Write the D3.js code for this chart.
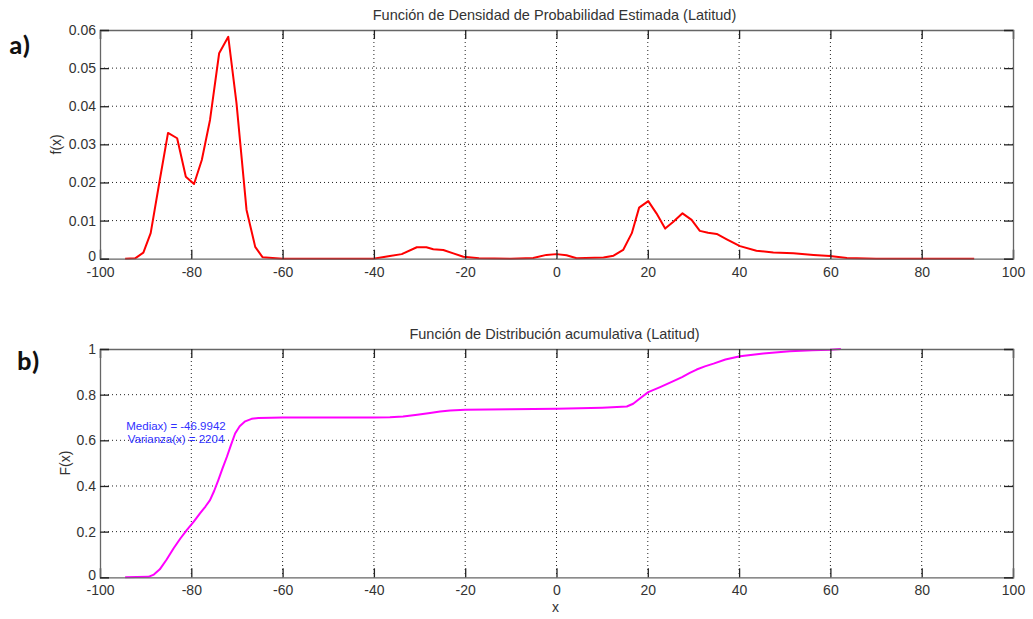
<!DOCTYPE html>
<html>
<head>
<meta charset="utf-8">
<script src="https://cdn.jsdelivr.net/npm/d3@7"></script>
<style>
  html, body { margin: 0; padding: 0; background: #fff; }
  svg { display: block; font-family: "Liberation Sans", Arial, sans-serif; }
</style>
</head>
<body>
<svg id="chart" width="1033" height="619"></svg>
<script>
// Kernel density estimate of latitude, f(x)
const pdfX = [-94.5, -92.3, -90.5, -88.9, -87.0, -85.1, -83.1, -81.2, -79.4, -77.7, -75.9, -73.9, -71.9, -70.1, -67.9, -66.0, -64.4,
  -60, -50, -40.1, -36.5, -33.9, -30.6, -28.5, -27.0, -24.8, -22.6, -20.4, -17.0, -10, -5.1, -2.2, 0.0, 2.2, 4.4, 10.3, 12.5,
  14.6, 16.5, 18.1, 20.1, 21.9, 23.8, 25.6, 27.6, 29.6, 31.4, 33.2, 35.1, 37.3, 40.2, 43.8, 47.5, 51.9, 56.3, 59.9, 63.6, 70, 80, 91.5];
const pdfY = [0, 0.0001, 0.0016, 0.0067, 0.020, 0.0330, 0.0316, 0.0215, 0.0196, 0.0259, 0.0364, 0.0539, 0.0582, 0.0408, 0.0128, 0.0031, 0.0004,
  0, 0, 0, 0.0007, 0.0012, 0.0030, 0.0030, 0.0025, 0.0023, 0.0014, 0.0005, 0.0001, 0, 0.0002, 0.0010, 0.0012, 0.0009, 0.0001, 0.0003, 0.0008,
  0.0023, 0.0067, 0.0134, 0.0151, 0.0119, 0.0079, 0.0097, 0.0119, 0.0102, 0.0073, 0.0068, 0.0065, 0.0051, 0.0033, 0.0021, 0.0016, 0.0014, 0.0010, 0.0007, 0.0002, 0, 0, 0];

// Cumulative distribution, F(x)
const cdfX = [-94.5, -89.4, -88.2, -86.9, -85.4, -83.9, -82.4, -81.0, -79.5, -78.1, -76.9, -75.9, -75.0, -74.1, -73.2, -72.2, -71.3, -70.4,
  -69.4, -68.2, -66.8, -65.3, -62.5, -60, -40.1, -36.5, -33.6, -30.5, -27.7, -25.5, -23.3, -20.0, -10.0,
  0.0, 10.0, 15.4, 16.8, 18.4, 20.1, 22.7, 25.6, 27.5, 29.2, 30.7, 32.5, 34.4, 37.0, 40.2, 45.3, 51.1, 56.0, 59.9, 62.3];
const cdfY = [0, 0.002, 0.012, 0.035, 0.078, 0.126, 0.170, 0.207, 0.243, 0.280, 0.310, 0.338, 0.378, 0.425, 0.475, 0.528, 0.580, 0.630,
  0.662, 0.683, 0.694, 0.698, 0.699, 0.700, 0.700, 0.701, 0.704, 0.712, 0.720, 0.726, 0.731, 0.734, 0.736,
  0.738, 0.743, 0.748, 0.760, 0.785, 0.811, 0.833, 0.859, 0.877, 0.895, 0.910, 0.924, 0.936, 0.954, 0.968, 0.980, 0.990, 0.995, 0.997, 1.0];

const xTicks = [-100, -80, -60, -40, -20, 0, 20, 40, 60, 80, 100];
const pdfTicks = [0, 0.01, 0.02, 0.03, 0.04, 0.05, 0.06];
const cdfTicks = [0, 0.2, 0.4, 0.6, 0.8, 1];

const pdfTitle = "Función de Densidad de Probabilidad Estimada (Latitud)";
const cdfTitle = "Función de Distribución acumulativa (Latitud)";
const statLines = ["Mediax) = -46.9942", "Varianza(x) = 2204"];

const svg = d3.select("#chart");
const left = 100, right = 1013;
const fontSize = 14;
const x = d3.scaleLinear().domain([-100, 100]).range([left, right]);

function panel(cfg) {
  const y = d3.scaleLinear().domain(cfg.yDomain).range([cfg.bottom, cfg.top]);
  const g = svg.append("g");
  const tickLen = 9;

  // dotted grid
  g.append("g").selectAll("line.gx").data(xTicks.slice(1, -1)).join("line")
    .attr("x1", d => x(d)).attr("x2", d => x(d))
    .attr("y1", cfg.top).attr("y2", cfg.bottom)
    .attr("stroke", "#222").attr("stroke-width", 1).attr("stroke-dasharray", "1,3");
  g.append("g").selectAll("line.gy").data(cfg.yTicks.slice(1, -1)).join("line")
    .attr("x1", left).attr("x2", right)
    .attr("y1", d => y(d)).attr("y2", d => y(d))
    .attr("stroke", "#222").attr("stroke-width", 1).attr("stroke-dasharray", "1,3");

  // curve
  const line = d3.line().x((d, i) => x(cfg.xs[i])).y(d => y(d));
  g.append("path").datum(cfg.ys)
    .attr("d", line)
    .attr("fill", "none").attr("stroke", cfg.color)
    .attr("stroke-width", 2).attr("stroke-linejoin", "round");

  // axes with inward ticks on all four sides
  const axB = d3.axisBottom(x).tickValues(xTicks).tickSize(-tickLen).tickPadding(8).tickFormat(d => String(d));
  const axT = d3.axisTop(x).tickValues(xTicks).tickSize(-tickLen).tickFormat("");
  const axL = d3.axisLeft(y).tickValues(cfg.yTicks).tickSize(-tickLen).tickPadding(4).tickFormat(cfg.fmt);
  const axR = d3.axisRight(y).tickValues(cfg.yTicks).tickSize(-tickLen).tickFormat("");
  const styleAxis = sel => {
    sel.select(".domain").attr("stroke", "#666").attr("stroke-width", 1.3);
    sel.selectAll(".tick line").attr("stroke", "#222").attr("stroke-width", 1.3);
    sel.selectAll(".tick text").attr("fill", "#333").attr("font-size", fontSize)
      .attr("font-family", "'Liberation Sans', Arial, sans-serif");
  };
  g.append("g").attr("transform", `translate(0,${cfg.bottom})`).call(axB).call(styleAxis);
  g.append("g").attr("transform", `translate(0,${cfg.top})`).call(axT).call(styleAxis);
  const gl = g.append("g").attr("transform", `translate(${left},0)`).call(axL).call(styleAxis);
  // lift the corner "0" a little so it clears the x tick labels
  gl.selectAll(".tick text").filter(d => d === 0).attr("dy", "0.16em");
  g.append("g").attr("transform", `translate(${right},0)`).call(axR).call(styleAxis);

  // titles and labels
  g.append("text").attr("x", (left + right) / 2 - 2).attr("y", cfg.top - 10)
    .attr("text-anchor", "middle").attr("font-size", 14.5).attr("fill", "#333").text(cfg.title);
  g.append("text").attr("transform", `translate(${cfg.ylabX},${(cfg.top + cfg.bottom) / 2}) rotate(-90)`)
    .attr("text-anchor", "middle").attr("font-size", fontSize).attr("fill", "#333").text(cfg.ylabel);
  g.append("text").attr("x", cfg.tagX).attr("y", cfg.tagY)
    .attr("font-size", 27).attr("font-weight", "bold").attr("fill", "#111")
    .attr("font-family", "Carlito, Calibri, 'Liberation Sans', sans-serif").text(cfg.tag);
  return y;
}

panel({
  top: 30, bottom: 258.7, yDomain: [0, 0.06], yTicks: pdfTicks,
  fmt: d => d === 0 ? "0" : d3.format(".2f")(d),
  xs: pdfX, ys: pdfY, color: "#ff0000",
  title: pdfTitle, ylabel: "f(x)", ylabX: 61, tag: "a)", tagX: 9, tagY: 54
});

panel({
  top: 349, bottom: 577.3, yDomain: [0, 1], yTicks: cdfTicks,
  fmt: d => d === 0 || d === 1 ? d3.format("d")(d) : d3.format(".1f")(d),
  xs: cdfX, ys: cdfY, color: "#ff00ff",
  title: cdfTitle, ylabel: "F(x)", ylabX: 70, tag: "b)", tagX: 17, tagY: 370
});

// x axis label
svg.append("text").attr("x", (left + right) / 2 - 1).attr("y", 612)
  .attr("text-anchor", "middle").attr("font-size", fontSize).attr("fill", "#333").text("x");

// summary statistics
svg.append("g").selectAll("text").data(statLines).join("text")
  .attr("x", 176).attr("y", (d, i) => 430 + i * 13)
  .attr("text-anchor", "middle").attr("font-size", 11.5).attr("fill", "#3030ff")
  .text(d => d);
</script>
</body>
</html>
